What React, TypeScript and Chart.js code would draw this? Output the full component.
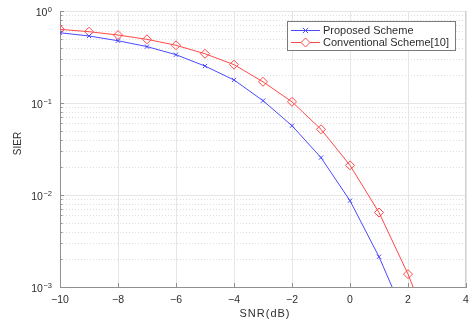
import React, { useEffect, useRef } from "react";
import { Chart, registerables } from "chart.js";

Chart.register(...registerables);

// ---- data ----
const snrProposed = [-10, -9, -8, -7, -6, -5, -4, -3, -2, -1, 0, 1, 2];
const proposedSier = [0.58, 0.535, 0.475, 0.41, 0.335, 0.252, 0.178, 0.106, 0.0566, 0.0255, 0.00867, 0.00213, 0.0004];
const snrConventional = [-10, -9, -8, -7, -6, -5, -4, -3, -2, -1, 0, 1, 2, 3];
const conventionalSier = [0.632, 0.596, 0.548, 0.492, 0.424, 0.343, 0.261, 0.17, 0.103, 0.0518, 0.021, 0.00645, 0.00138, 0.00022];
const xTickValues = [-10, -8, -6, -4, -2, 0, 2, 4];
const xTickLabels = ["\u221210", "\u22128", "\u22126", "\u22124", "\u22122", "0", "2", "4"];
const yDecades = [0.001, 0.01, 0.1, 1];
const yTickBases = ["10", "10", "10", "10"];
const yTickExponents = ["\u22123", "\u22122", "\u22121", "0"];
const seriesLabels = ["Proposed Scheme", "Conventional Scheme[10]"];
const xTitle = "SNR(dB)";
const yTitle = "SIER";

const FONT = "'Liberation Sans', Arial, sans-serif";
const TEXT = "#2e2e2e";
const AXIS = "#909090";
const BLUE = "#4a4aff";
const RED = "#ff4848";

const decorPlugin = {
  id: "decor",
  beforeDatasetsDraw(chart: any) {
    const { ctx, chartArea: a, scales } = chart;
    const x = scales.x;
    const y = scales.y;
    ctx.save();
    // minor dotted grid lines
    ctx.strokeStyle = "#dedede";
    ctx.lineWidth = 1;
    ctx.setLineDash([1, 2]);
    for (const d of yDecades.slice(0, -1)) {
      for (let m = 2; m <= 9; m++) {
        const py = Math.round(y.getPixelForValue(d * m)) + 0.5;
        ctx.beginPath();
        ctx.moveTo(a.left, py);
        ctx.lineTo(a.right, py);
        ctx.stroke();
      }
    }
    ctx.setLineDash([]);
    // right edge slightly darker
    ctx.strokeStyle = "#cfcfcf";
    ctx.beginPath();
    ctx.moveTo(Math.round(a.right) - 0.5, a.top);
    ctx.lineTo(Math.round(a.right) - 0.5, a.bottom);
    ctx.stroke();
    // inward tick marks
    ctx.strokeStyle = AXIS;
    for (const v of xTickValues) {
      const px = Math.round(x.getPixelForValue(v)) + 0.5;
      ctx.beginPath();
      ctx.moveTo(px, a.bottom);
      ctx.lineTo(px, a.bottom - 4);
      ctx.stroke();
    }
    for (const d of yDecades) {
      const py = Math.round(y.getPixelForValue(d)) + 0.5;
      ctx.beginPath();
      ctx.moveTo(a.left, py);
      ctx.lineTo(a.left + 4, py);
      ctx.stroke();
      if (d < 1) {
        for (let m = 2; m <= 9; m++) {
          const pm = Math.round(y.getPixelForValue(d * m)) + 0.5;
          ctx.beginPath();
          ctx.moveTo(a.left, pm);
          ctx.lineTo(a.left + 2.5, pm);
          ctx.stroke();
        }
      }
    }
    ctx.restore();
  },
  afterDraw(chart: any) {
    const { ctx, chartArea: a, scales } = chart;
    const x = scales.x;
    const y = scales.y;
    ctx.save();
    ctx.fillStyle = TEXT;
    // x tick labels
    ctx.font = `10.5px ${FONT}`;
    ctx.textAlign = "center";
    ctx.textBaseline = "middle";
    xTickValues.forEach((v, i) => {
      ctx.fillText(xTickLabels[i], x.getPixelForValue(v), a.bottom + 13);
    });
    // y tick labels with superscript exponents
    yDecades.forEach((d, i) => {
      const py = y.getPixelForValue(d);
      const right = 52;
      ctx.font = `7.5px ${FONT}`;
      const we = ctx.measureText(yTickExponents[i]).width;
      ctx.textAlign = "right";
      ctx.fillText(yTickExponents[i], right, py - 1.5);
      ctx.font = `10.5px ${FONT}`;
      ctx.fillText(yTickBases[i], right - we - 0.5, py + 2);
    });
    // axis titles
    ctx.font = `11px ${FONT}`;
    ctx.textAlign = "center";
    (ctx as any).letterSpacing = "1px";
    ctx.fillText(xTitle, (a.left + a.right) / 2 + 2, a.bottom + 27);
    (ctx as any).letterSpacing = "0px";
    ctx.save();
    ctx.translate(18.5, 143.5);
    ctx.rotate(-Math.PI / 2);
    ctx.font = `10px ${FONT}`;
    ctx.fillText(yTitle, 0, 0);
    ctx.restore();
    // legend
    const lx = 287.5, ly = 21.5, lw = 168, lh = 29;
    ctx.fillStyle = "#ffffff";
    ctx.fillRect(lx, ly, lw, lh);
    ctx.strokeStyle = "#7a7a7a";
    ctx.lineWidth = 1;
    ctx.strokeRect(lx, ly, lw, lh);
    const rows = [
      { y: 30.5, color: BLUE, marker: "x" },
      { y: 42.5, color: RED, marker: "d" },
    ];
    rows.forEach((r, i) => {
      ctx.strokeStyle = r.color;
      ctx.lineWidth = 1;
      ctx.beginPath();
      ctx.moveTo(291, r.y);
      ctx.lineTo(320, r.y);
      ctx.stroke();
      const cx = 305.5;
      if (r.marker === "x") {
        const s = 2.6;
        ctx.beginPath();
        ctx.moveTo(cx - s, r.y - s);
        ctx.lineTo(cx + s, r.y + s);
        ctx.moveTo(cx - s, r.y + s);
        ctx.lineTo(cx + s, r.y - s);
        ctx.stroke();
      } else {
        const s = 4.5;
        ctx.fillStyle = "#ffffff";
        ctx.beginPath();
        ctx.moveTo(cx, r.y - s);
        ctx.lineTo(cx + s, r.y);
        ctx.lineTo(cx, r.y + s);
        ctx.lineTo(cx - s, r.y);
        ctx.closePath();
        ctx.fill();
        ctx.stroke();
      }
      ctx.fillStyle = TEXT;
      ctx.font = `11px ${FONT}`;
      ctx.textAlign = "left";
      ctx.textBaseline = "middle";
      ctx.fillText(seriesLabels[i], 323, r.y + 0.5);
    });
    ctx.restore();
  },
};

export default function App() {
  const ref = useRef<HTMLCanvasElement | null>(null);
  useEffect(() => {
    if (!ref.current) return;
    const chart = new Chart(ref.current, {
      type: "line",
      data: {
        datasets: [
          {
            label: seriesLabels[0],
            data: snrProposed.map((v, i) => ({ x: v, y: proposedSier[i] })),
            borderColor: BLUE,
            borderWidth: 1,
            pointStyle: "crossRot",
            pointRadius: 3,
            pointBorderWidth: 1,
            pointBorderColor: BLUE,
            pointBackgroundColor: "rgba(0,0,0,0)",
            tension: 0,
            fill: false,
          },
          {
            label: seriesLabels[1],
            data: snrConventional.map((v, i) => ({ x: v, y: conventionalSier[i] })),
            borderColor: RED,
            borderWidth: 1,
            pointStyle: "rectRot",
            pointRadius: 4.5,
            pointBorderWidth: 1,
            pointBorderColor: RED,
            pointBackgroundColor: "rgba(0,0,0,0)",
            tension: 0,
            fill: false,
          },
        ],
      },
      options: {
        responsive: false,
        animation: false,
        events: [],
        layout: { padding: { left: 60, top: 11, right: 7, bottom: 38 } },
        plugins: { legend: { display: false }, tooltip: { enabled: false } },
        scales: {
          x: {
            type: "linear",
            min: -10,
            max: 4,
            ticks: { display: false, stepSize: 2 },
            grid: { color: "#e6e6e6", drawTicks: false, lineWidth: 1 },
            border: { display: true, color: AXIS, width: 1 },
          },
          y: {
            type: "logarithmic",
            min: 0.001,
            max: 1,
            afterBuildTicks: (scale: any) => {
              scale.ticks = yDecades.map((v) => ({ value: v }));
            },
            ticks: { display: false },
            grid: { color: "#e6e6e6", drawTicks: false, lineWidth: 1 },
            border: { display: true, color: AXIS, width: 1 },
          },
        },
      },
      plugins: [decorPlugin],
    } as any);
    return () => chart.destroy();
  }, []);
  return (
    <div style={{ position: "absolute", left: 0, top: 0, width: 473, height: 325, background: "#fff" }}>
      <canvas ref={ref} width={473} height={325} />
    </div>
  );
}
